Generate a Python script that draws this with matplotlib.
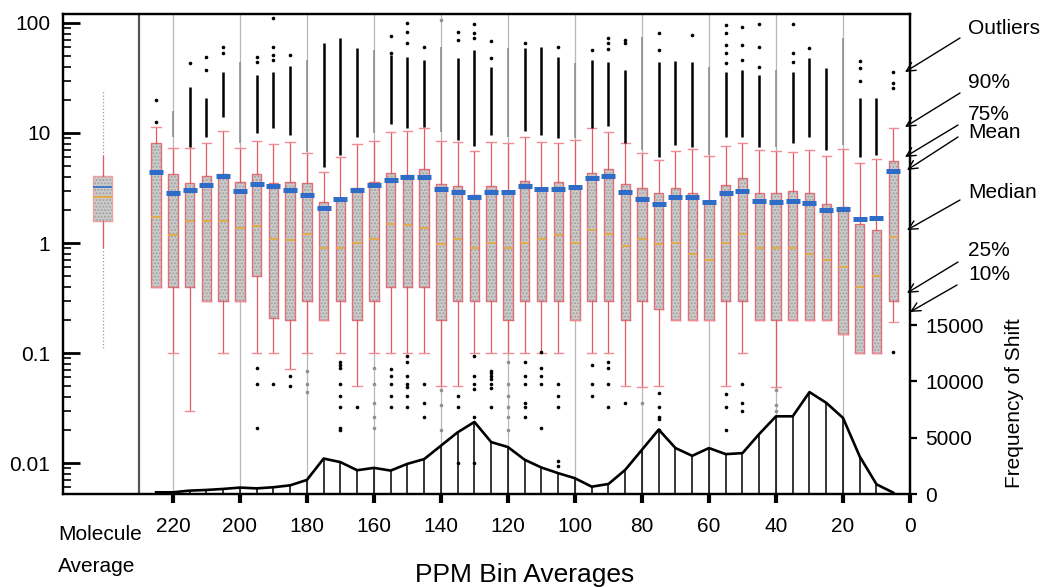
import numpy as np
import matplotlib
matplotlib.use('Agg')
import matplotlib.pyplot as plt

plt.rcParams['font.family'] = ['Liberation Sans', 'DejaVu Sans']

# ---------------- data ----------------
ppm_bins = [225, 220, 215, 210, 205, 200, 195, 190, 185, 180, 175, 170, 165, 160, 155,
            150, 145, 140, 135, 130, 125, 120, 115, 110, 105, 100, 95, 90, 85, 80,
            75, 70, 65, 60, 55, 50, 45, 40, 35, 30, 25, 20, 15, 10, 5]

p90 = [11.3, 7.3, 7.3, 8.1, 10.4, 7.3, 8.5, 7.9, 8.3, 6.6, 4.4, 6.1, 7.9, 8.5, 10.2,
       10.4, 11.1, 8.5, 8.3, 6.9, 8.3, 8.1, 9.2, 8.3, 8.1, 8.6, 11.1, 10.2, 8.1, 6.6,
       5.7, 6.9, 7.2, 6.2, 7.6, 8.1, 7.0, 6.9, 6.7, 7.0, 6.2, 7.2, 5.3, 5.8, 11.1]
p75 = [8.1, 4.24, 3.51, 4.06, 4.24, 3.59, 4.24, 3.51, 3.59, 3.51, 2.36, 2.51, 3.16, 3.59, 4.3,
       4.15, 4.7, 3.44, 3.30, 2.73, 3.30, 2.91, 3.66, 3.16, 3.59, 3.30, 4.3, 4.7, 3.44, 3.16,
       2.85, 3.16, 2.85, 2.36, 3.37, 3.90, 2.85, 2.85, 2.97, 2.85, 2.26, 2.13, 1.49, 1.31, 5.6]
mean_shift = [4.4, 2.85, 3.03, 3.37, 4.06, 2.97, 3.44, 3.30, 3.03, 2.73, 2.08, 2.51, 3.03, 3.37, 3.74,
              3.98, 3.98, 3.10, 2.91, 2.62, 2.91, 2.91, 3.30, 3.10, 3.10, 3.23, 3.90, 4.06, 2.91, 2.51,
              2.26, 2.62, 2.62, 2.36, 2.85, 2.97, 2.41, 2.36, 2.41, 2.31, 2.0, 2.04, 1.65, 1.69, 4.5]
median_shift = [1.72, 1.18, 1.58, 1.58, 1.58, 1.37, 1.43, 1.09, 1.06, 1.21, 0.90, 0.90, 1.0, 1.09, 1.49,
                1.46, 1.37, 0.98, 1.09, 0.90, 1.0, 0.90, 1.0, 1.09, 1.18, 1.0, 1.31, 1.21, 0.94, 1.09,
                0.98, 1.0, 0.79, 0.70, 1.0, 1.21, 0.90, 0.90, 0.90, 0.79, 0.70, 0.60, 0.40, 0.50, 1.13]
p25 = [0.40, 0.40, 0.40, 0.30, 0.30, 0.30, 0.50, 0.21, 0.20, 0.30, 0.20, 0.30, 0.20, 0.30, 0.40,
       0.40, 0.40, 0.20, 0.30, 0.30, 0.30, 0.20, 0.30, 0.30, 0.30, 0.20, 0.30, 0.30, 0.20, 0.30,
       0.25, 0.20, 0.20, 0.20, 0.30, 0.30, 0.20, 0.20, 0.20, 0.20, 0.20, 0.15, 0.10, 0.10, 0.30]
p10 = [0.40, 0.10, 0.030, 0.30, 0.10, 0.30, 0.10, 0.10, 0.072, 0.10, 0.20, 0.10, 0.050, 0.10, 0.10,
       0.10, 0.10, 0.050, 0.050, 0.10, 0.10, 0.10, 0.10, 0.10, 0.10, 0.20, 0.10, 0.10, 0.050, 0.049,
       0.050, 0.20, 0.20, 0.20, 0.050, 0.10, 0.20, 0.049, 0.20, 0.20, 0.20, 0.15, 0.10, 0.10, 0.19]

# dense runs of upper outliers (low end, high end); None = no dense run
outlier_run_lo = [None, 9.2, 7.5, 9.2, 14, 8.1, 10, 11.1, 9.6, 6.7, 4.9, 6.3, 9.2, 10, 12.1,
                  11.1, 11.3, 10.2, 8.6, 7.6, 9.6, 9.2, 10.4, 9.6, 9.0, 9.0, 11.1, 11.6, 8.1, 7.0,
                  6.1, 7.8, 7.5, 6.3, 9.2, 9.2, 7.5, 7.5, 8.1, 9.2, 7.0, 7.8, 6.1, 6.3, None]
outlier_run_hi = [None, 16, 26, 21, 36, 44, 34, 36, 41, 46, 66, 73, 59, 57, 51,
                  49, 46, 60, 48, 57, 40, 59, 59, 61, 49, 43, 46, 44, 37, 75,
                  44, 45, 44, 40, 36, 37, 34, 37, 36, 48, 39, 73, 21, 21, None]
# isolated upper outliers
outliers_high = [[20, 12.6], [], [43], [49, 37], [61, 53], [], [49, 44], [111, 61, 51, 46], [51], [],
                 [], [], [], [], [76, 53],
                 [100, 83, 66], [61], [106], [83, 70], [98, 81, 73], [69, 48], [], [66], [], [61],
                 [], [57], [73, 66, 58], [70, 66], [],
                 [81, 57], [], [78], [], [96, 81, 63, 53, 43], [92, 63, 46], [98, 61, 40], [],
                 [98, 53, 44], [59], [], [], [45, 39, 30], [], [36, 28.5, 25.6]]
# low outliers
outliers_low = [[], [], [], [], [], [], [0.073, 0.052, 0.021], [0.052], [0.062, 0.050],
                [0.069, 0.052, 0.044], [], [0.083, 0.078, 0.073, 0.052, 0.041, 0.032, 0.021, 0.020],
                [0.032], [0.073, 0.052, 0.035, 0.026, 0.021], [0.072, 0.062, 0.052, 0.041, 0.032],
                [0.094, 0.083, 0.062, 0.052, 0.049, 0.041, 0.032], [0.052, 0.035, 0.026],
                [0.046, 0.034, 0.020], [0.041, 0.032, 0.010], [0.094, 0.062, 0.052, 0.047, 0.026, 0.010],
                [0.069, 0.066, 0.062, 0.058, 0.052, 0.048, 0.032],
                [0.083, 0.052, 0.041, 0.032, 0.026, 0.020], [0.083, 0.062, 0.052, 0.035, 0.032, 0.026],
                [0.102, 0.073, 0.062, 0.052, 0.021], [0.052, 0.041, 0.032, 0.0104, 0.0094], [],
                [0.078, 0.052, 0.041], [0.083, 0.073, 0.052, 0.032], [0.035], [0.035],
                [0.043, 0.032, 0.026, 0.025, 0.020], [], [], [], [0.042, 0.032, 0.020],
                [0.052, 0.035, 0.030], [], [0.046, 0.034, 0.030], [], [], [], [], [], [], [0.102]]

freq = [150, 150, 300, 360, 450, 570, 500, 600, 770, 1250, 3150, 2830, 2110, 2320, 2080,
        2680, 3100, 4290, 5480, 6400, 4610, 4170, 3040, 2350, 1850, 1400, 650, 890, 2140, 3930,
        5720, 4080, 3390, 4080, 3540, 3630, 5330, 6900, 6900, 9050, 8100, 6760, 3330, 860, 120]

# molecule average summary
mol_pos = 241
mol_p10, mol_p25, mol_med, mol_mean, mol_p75, mol_p90 = 0.92, 1.59, 2.62, 3.23, 4.06, 6.2
mol_min, mol_max = 0.111, 24.5

xticks = [220, 200, 180, 160, 140, 120, 100, 80, 60, 40, 20, 0]
yticks = [0.01, 0.1, 1, 10, 100]
ytick_labels = ['0.01', '0.1', '1', '10', '100']
freq_ticks = [0, 5000, 10000, 15000]
legend_labels = ['Outliers', '90%', '75%', 'Mean', 'Median', '25%', '10%']

# ---------------- figure ----------------
W, H = 1042, 587
fig = plt.figure(figsize=(W / 100, H / 100), dpi=100)
L, R, T, B = 63, 910, 14, 494
ax = fig.add_axes([L / W, 1 - B / H, (R - L) / W, (B - T) / H])
ax.set_yscale('log')
ax.set_xlim(252.8, 0)
ax.set_ylim(0.00523, 120.7)

box_face = '#cccccc'
box_edge = '#e07078'
whisk = '#e05a62'
cap_c = '#f08c94'
med_c = '#e8a838'
mean_c = '#2f6cc8'

for g in xticks[:-1]:
    ax.axvline(g, color='#b8b8b8', lw=0.9, zorder=1)
ax.axvline(230, color='#555555', lw=1.6, zorder=1)

q1 = np.array(p25)
q3 = np.array(p75)
ax.bar(ppm_bins, q3 - q1, bottom=q1, width=2.8, color=box_face, edgecolor='#a0a0a0',
       hatch='.....', linewidth=0, zorder=2)

stats = []
for i in range(len(ppm_bins)):
    stats.append(dict(med=median_shift[i], q1=p25[i], q3=p75[i],
                      whislo=p10[i], whishi=p90[i], fliers=[]))
ax.bxp(stats, positions=ppm_bins, widths=2.8, showfliers=False, patch_artist=False,
       boxprops=dict(color=box_edge, lw=1.0), whiskerprops=dict(color=whisk, lw=0.9),
       capprops=dict(color=cap_c, lw=1.0), medianprops=dict(color=med_c, lw=1.2),
       capwidths=2.8, manage_ticks=False, zorder=3)

ax.plot(ppm_bins, mean_shift, linestyle='none', marker='_', markersize=10,
        markeredgewidth=3.6, color=mean_c, zorder=5)

# outliers
for i, x in enumerate(ppm_bins):
    on_grid = (x % 20 == 0)
    col = '#8f8f8f' if on_grid else 'black'
    if outlier_run_lo[i] is not None:
        ax.vlines(x, outlier_run_lo[i], outlier_run_hi[i], color=col,
                  lw=1.2 if on_grid else 1.8, zorder=4)
    pts = outliers_high[i] + outliers_low[i]
    if pts:
        ax.plot([x] * len(pts), pts, linestyle='none', marker='o', markersize=2.6,
                color=col, markeredgewidth=0, zorder=4)

# molecule average
ax.vlines(mol_pos, mol_min, mol_max, color='#9a9a9a', lw=0.9, linestyle=':', zorder=2)
ax.bar([mol_pos], [mol_p75 - mol_p25], bottom=[mol_p25], width=5.7, color=box_face,
       edgecolor='#a0a0a0', hatch='.....', linewidth=0, zorder=2)
ax.bxp([dict(med=mol_med, q1=mol_p25, q3=mol_p75, whislo=mol_p10, whishi=mol_p90,
             mean=mol_mean, fliers=[])],
       positions=[mol_pos], widths=5.7, showfliers=False, showcaps=False, showmeans=True,
       meanline=True, boxprops=dict(color='#f0a0a0', lw=1.0),
       whiskerprops=dict(color=whisk, lw=0.9), medianprops=dict(color=med_c, lw=1.2),
       meanprops=dict(color=mean_c, lw=1.2, linestyle='-'), manage_ticks=False, zorder=3)

# axes styling
for s in ax.spines.values():
    s.set_linewidth(1.6)
ax.set_xticks(xticks)
ax.set_xticklabels([str(v) for v in xticks])
ax.tick_params(axis='x', direction='out', length=6.5, width=3, labelsize=15, pad=10)
ax.set_yticks(yticks)
ax.set_yticklabels(ytick_labels)
ax.tick_params(axis='y', which='major', direction='in', length=12, width=2,
               labelsize=15, pad=9, right=False)
ax.tick_params(axis='y', which='minor', direction='in', length=6, width=1.2, right=False)
ax.yaxis.set_minor_formatter(matplotlib.ticker.NullFormatter())

# frequency histogram on twin axis
ax2 = ax.twinx()
ax2.set_ylim(0, 42630)
ax2.vlines(ppm_bins, 0, freq, color='black', lw=1.1, zorder=6)
ax2.plot(ppm_bins, freq, color='black', lw=1.9, zorder=7)
ax2.set_yticks(freq_ticks)
ax2.set_yticklabels([str(v) for v in freq_ticks])
ax2.tick_params(axis='y', direction='out', length=5, width=1.6, labelsize=15, pad=6)
for s in ax2.spines.values():
    s.set_linewidth(1.6)
ax2.set_xlim(252.8, 0)

# texts
fig.text(1015 / W, 1 - 403 / H, 'Frequency of Shift', rotation=90, ha='center', va='center',
         fontsize=15)
fig.text(525 / W, 1 - 575 / H, 'PPM Bin Averages', ha='center', va='center', fontsize=19)
fig.text(58 / W, 1 - 535 / H, 'Molecule', ha='left', va='center', fontsize=15)
fig.text(58 / W, 1 - 567 / H, 'Average', ha='left', va='center', fontsize=15)

label_y = [28, 83, 115, 132, 192, 251, 275]
tails = [(960, 38), (960, 93), (958, 125), (958, 137), (960, 200), (958, 262), (957, 285)]
tips = [(905, 72), (905, 127), (905, 157), (907, 170), (907, 230), (907, 293), (910, 312)]
for lab, ly, (tx, ty), (hx, hy) in zip(legend_labels, label_y, tails, tips):
    fig.text(968 / W, 1 - ly / H, lab, ha='left', va='center', fontsize=15)
    ax.annotate('', xy=(hx, H - hy), xycoords='figure pixels',
                xytext=(tx, H - ty), textcoords='figure pixels',
                arrowprops=dict(arrowstyle='->', lw=1.0, color='black',
                                mutation_scale=16, shrinkA=0, shrinkB=0),
                annotation_clip=False)

fig.savefig('out.png', dpi=100)
